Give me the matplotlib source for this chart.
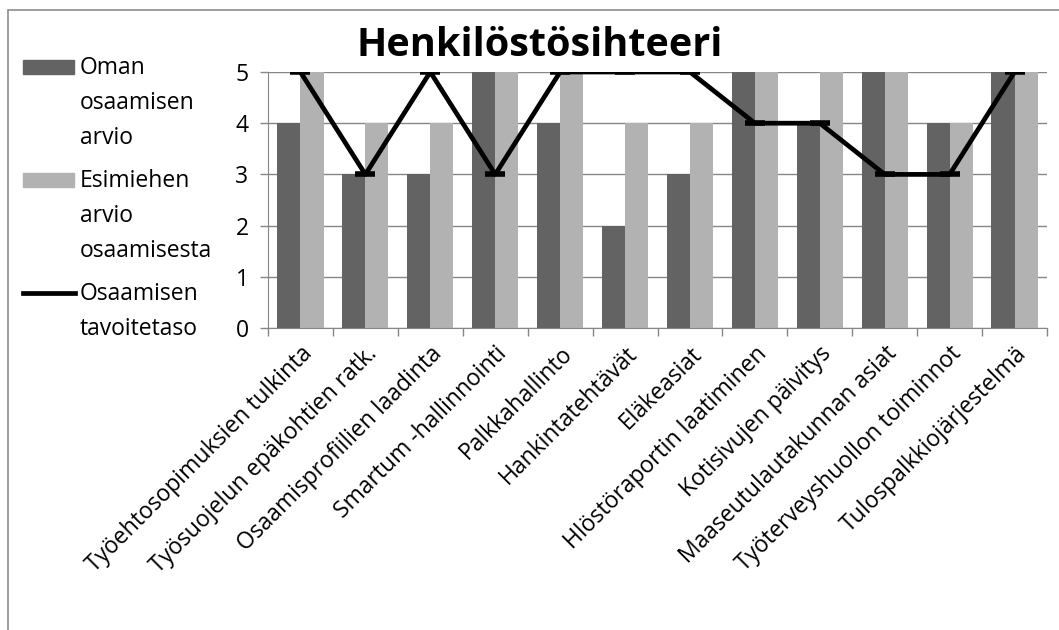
import matplotlib
matplotlib.use("Agg")
import matplotlib.pyplot as plt
import numpy as np
from matplotlib.patches import Rectangle
from matplotlib.lines import Line2D

plt.rcParams['font.family'] = ['Open Sans', 'DejaVu Sans']

categories = ["Työehtosopimuksien tulkinta", "Työsuojelun epäkohtien ratk.",
              "Osaamisprofiilien laadinta", "Smartum -hallinnointi", "Palkkahallinto",
              "Hankintatehtävät", "Eläkeasiat", "Hlöstöraportin laatiminen",
              "Kotisivujen päivitys", "Maaseutulautakunnan asiat",
              "Työterveyshuollon toiminnot", "Tulospalkkiojärjestelmä"]
oma = [4, 3, 3, 5, 4, 2, 3, 5, 4, 5, 4, 5]
esimies = [5, 4, 4, 5, 5, 4, 4, 5, 5, 5, 4, 5]
tavoite = [5, 3, 5, 3, 5, 5, 5, 4, 4, 3, 3, 5]
labels = ["Oman\nosaamisen\narvio", "Esimiehen\narvio\nosaamisesta", "Osaamisen\ntavoitetaso"]

DARK, LIGHT, GRID = "#636363", "#b2b2b2", "#868686"
W, H = 1059, 630
FS = 16.5
fig = plt.figure(figsize=(W / 100, H / 100), dpi=100)
ax = fig.add_axes([268 / W, 1 - 328 / H, (1047 - 268) / W, (328 - 72) / H])

x = np.arange(len(categories))
bw = 0.355
ax.bar(x - bw / 2, oma, bw, color=DARK, zorder=2)
ax.bar(x + bw / 2, esimies, bw, color=LIGHT, zorder=2)
ax.plot(x, tavoite, color="black", lw=3.4, marker="_", ms=15, mew=4, zorder=3)

ax.set_xlim(-0.5, len(categories) - 0.5)
ax.set_ylim(0, 5)
ax.set_yticks(range(6))
ax.yaxis.grid(True, color=GRID, lw=1, zorder=0)
ax.set_xticks(x)
ax.set_xticklabels(categories, rotation=45, ha="right", rotation_mode="anchor", fontsize=FS)
ax.set_xticks(np.arange(-0.5, len(categories)), minor=True)
ax.tick_params(axis="x", which="major", length=0, pad=10)
ax.tick_params(axis="x", which="minor", length=6, color=GRID, width=1)
ax.tick_params(axis="y", length=6, color=GRID, width=1, labelsize=FS, pad=8)
for s in ["top", "right"]:
    ax.spines[s].set_visible(False)
for s in ["left", "bottom"]:
    ax.spines[s].set_color(GRID)

fig.text(540 / W, 1 - 46 / H, "Henkilöstösihteeri", ha="center", va="center",
         fontsize=28.5, fontweight="bold")

# legend drawn by hand so the key sits on the first text line
rows = [67, 180, 293]
for i, (lab, y) in enumerate(zip(labels, rows)):
    yf = 1 - y / H
    if i < 2:
        fig.patches.append(Rectangle((23 / W, yf - 7 / H), 51 / W, 14 / H,
                                     color=[DARK, LIGHT][i], transform=fig.transFigure))
    else:
        fig.lines.append(Line2D([23 / W, 75 / W], [yf, yf], color="black", lw=3.4,
                                transform=fig.transFigure))
    fig.text(80 / W, yf + 11 / H, lab, ha="left", va="top", fontsize=FS, linespacing=1.6)

fig.patches.append(Rectangle((8 / W, -0.1), 1.2, 1 - 10 / H + 0.1, fill=False,
                             ec="#8c8c8c", lw=1.2, transform=fig.transFigure))

fig.savefig("out.png", dpi=100)
